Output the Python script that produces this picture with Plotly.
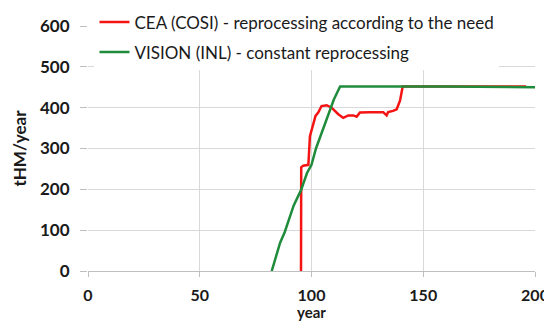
import plotly.graph_objects as go

# CEA (COSI) - reprocessing according to the need
cea_year = [95.3, 95.4, 96.3, 98.6, 99.3, 100.0, 101.8, 103.0, 104.5, 106.8, 109.0, 112.0,
            114.2, 116.5, 118.7, 120.2, 121.7, 126.0, 132.1, 133.6, 134.3, 136.5, 138.1,
            139.6, 140.3, 140.8, 150.0, 170.0, 196.0]
cea_val = [0, 254, 258, 260, 330, 346, 380, 388, 404, 406, 400, 384,
           375, 381, 381, 378, 388, 389, 389, 381, 389, 392, 396,
           417, 437, 452, 452, 452, 452]

# VISION (INL) - constant reprocessing
vis_year = [82.2, 84.0, 86.0, 88.0, 90.0, 92.0, 95.3, 98.0, 100.0, 102.0, 104.0, 106.0,
            108.0, 110.0, 112.8, 130.0, 160.0, 200.0]
vis_val = [0, 35, 70, 95, 130, 160, 198, 240, 260, 300, 330, 360,
           385, 420, 452, 452, 452, 450]

x_ticks = [0, 50, 100, 150, 200]
y_ticks = [0, 100, 200, 300, 400, 500, 600]

fig = go.Figure()
fig.add_trace(go.Scatter(x=cea_year, y=cea_val, mode="lines", legendgroup="cea",
                         name="CEA (COSI) - reprocessing according to the need",
                         line=dict(color="#f51414", width=2.5)))
fig.add_trace(go.Scatter(x=vis_year, y=vis_val, mode="lines", legendgroup="vis",
                         name="VISION (INL) - constant reprocessing",
                         line=dict(color="#1f8c3b", width=2.5)))

fig.update_layout(
    width=544, height=313,
    margin=dict(l=80, r=17, t=18, b=50, autoexpand=False),
    paper_bgcolor="white", plot_bgcolor="white",
    font=dict(family="Lato, Open Sans, sans-serif", color="#1a1a1a"),
    showlegend=True,
    legend=dict(x=0.0145, y=1.088, xref="paper", yref="paper",
                xanchor="left", yanchor="top", traceorder="grouped",
                bgcolor="white", font=dict(size=17, color="#1a1a1a"),
                itemwidth=30, tracegroupgap=5),
    xaxis=dict(range=[0, 200], tickvals=x_ticks, showgrid=True, gridcolor="#d9d9d9",
               gridwidth=1, zeroline=False, showline=True, linecolor="#bfbfbf",
               ticks="outside", ticklen=5, tickcolor="#bfbfbf", automargin=False,
               ticklabelstandoff=5,
               tickfont=dict(size=16, family="Lato", weight="bold"),
               title=dict(text="<b>year</b>", font=dict(size=15), standoff=5)),
    yaxis=dict(range=[0, 600], tickvals=y_ticks, showgrid=True, gridcolor="#d9d9d9",
               gridwidth=1, zeroline=False, showline=False, automargin=False,
               ticks="outside", ticklen=7, tickcolor="#bfbfbf", ticklabelstandoff=7,
               tickfont=dict(size=17, family="Lato", weight="bold"),
               title=dict(text="<b>tHM/year</b>", font=dict(size=17), standoff=9)),
)

fig.write_html("out.html")
